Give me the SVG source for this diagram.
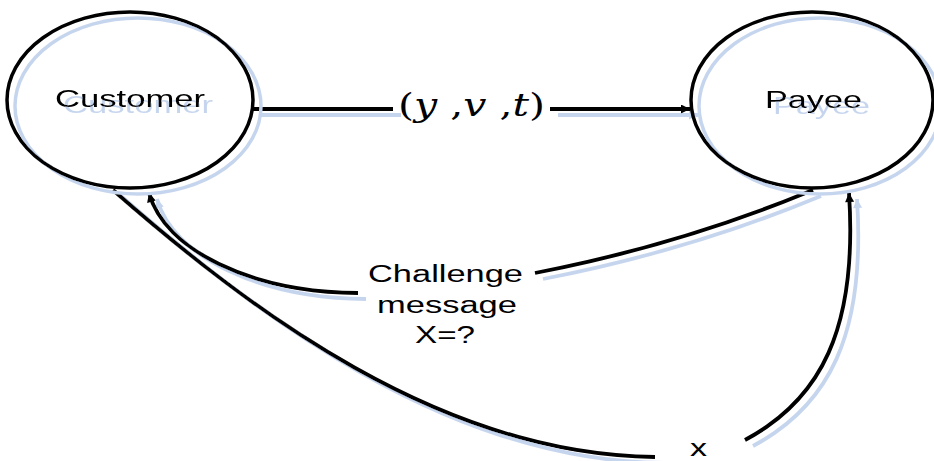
<svg xmlns="http://www.w3.org/2000/svg" width="934" height="461" viewBox="0 0 934 461">
<style>
.node{fill:none;stroke:#000;stroke-width:3.5}
.edge{fill:none;stroke:#000;stroke-width:3.8}
.lbl{font-family:"Liberation Sans",Arial,sans-serif;font-size:23px;fill:#000}
.math{font-family:"DejaVu Serif","Liberation Serif",serif;font-size:32px;fill:#000}
</style>
<defs>
<filter id="sh" x="-10%" y="-10%" width="130%" height="130%">
<feOffset in="SourceAlpha" dx="8" dy="6" result="o"/>
<feFlood flood-color="#c6d5ee" result="c"/>
<feComposite in="c" in2="o" operator="in" result="s"/>
<feMerge><feMergeNode in="s"/><feMergeNode in="SourceGraphic"/></feMerge>
</filter>
<marker id="ah" viewBox="0 0 10 10" refX="10" refY="5" markerWidth="12" markerHeight="9" markerUnits="userSpaceOnUse" orient="auto">
<path d="M0,0 L10,5 L0,10 Z" fill="#000"/>
</marker>
</defs>
<rect width="934" height="461" fill="#fff"/>
<g id="connectors" filter="url(#sh)">
<path class="edge" d="M253,109 L393,109"/>
<path class="edge" d="M550,109 L690,109" marker-end="url(#ah)"/>
<path class="edge" d="M813,190 Q680,245 535,273"/>
<path class="edge" d="M358,293 C250,292 165,250 149,193" marker-end="url(#ah)"/>
<path class="edge" d="M113,190 C250,310 440,455 655,457"/>
<path class="edge" d="M745,440 C820,400 858,330 849,193" marker-end="url(#ah)"/>
</g>
<g id="labels">
<text class="math" x="398" y="116" textLength="147" lengthAdjust="spacingAndGlyphs">(<tspan font-style="italic">y</tspan> ,<tspan font-style="italic">v</tspan> ,<tspan font-style="italic">t</tspan>)</text>
<text class="lbl" x="368" y="282" textLength="155" lengthAdjust="spacingAndGlyphs">Challenge</text>
<text class="lbl" x="377" y="313" textLength="140" lengthAdjust="spacingAndGlyphs">message</text>
<text class="lbl" x="415" y="343" textLength="60" lengthAdjust="spacingAndGlyphs">X=?</text>
<text class="lbl" x="690" y="456" textLength="17" lengthAdjust="spacingAndGlyphs">x</text>
</g>
<g id="customer" filter="url(#sh)">
<ellipse class="node" cx="130" cy="100" rx="123" ry="88"/>
<text class="lbl" x="55" y="107" textLength="150" lengthAdjust="spacingAndGlyphs">Customer</text>
</g>
<g id="payee" filter="url(#sh)">
<ellipse class="node" cx="812" cy="100" rx="121" ry="88"/>
<text class="lbl" x="765" y="108" textLength="97" lengthAdjust="spacingAndGlyphs">Payee</text>
</g>
</svg>
